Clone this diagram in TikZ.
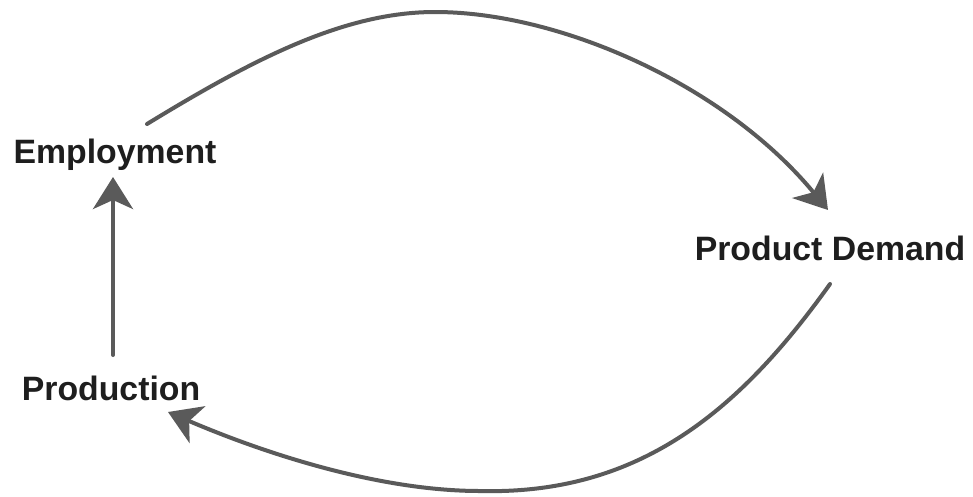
\documentclass[tikz,border=0pt]{standalone}
\usepackage{fontspec}
\setmainfont{Liberation Sans}
\usetikzlibrary{arrows.meta,calc}
\definecolor{linegray}{HTML}{5A5A5A}
\definecolor{txt}{HTML}{1E1E1E}
\begin{document}
\begin{tikzpicture}[x=1pt,y=-1pt,
  lbl/.style={inner sep=0pt,anchor=base,text=txt,font=\fontsize{33.8}{40}\selectfont\bfseries},
  conn/.style={draw=linegray,line width=4pt,line cap=round,
    -{Stealth[length=32pt,width=40pt,inset=9pt]}}]
\useasboundingbox[fill=white] (0,0) rectangle (973,496);
\node[lbl] (emp) at (115,163) {Employment};
\node[lbl] (pd) at (830,260) {Product Demand};
\node[lbl] (prod) at (111,400) {Production};
% Employment -> Product Demand
\draw[conn] ($(emp.base)+(32,-39)$) .. controls (255,58) and (345,12) .. (435,12)
  .. controls (560,12) and (725,85) .. ($(pd.base)+(-2,-50)$);
% Product Demand -> Production
\draw[conn] ($(pd.base)+(0,24)$) .. controls (740,410) and (640,495) .. (480,491)
  .. controls (380,491) and (266,454) .. ($(prod.base)+(57,12)$);
% Production -> Employment
\draw[conn] ($(prod.base)+(2,-45)$) -- ($(emp.base)+(-2,14)$);
\end{tikzpicture}
\end{document}
